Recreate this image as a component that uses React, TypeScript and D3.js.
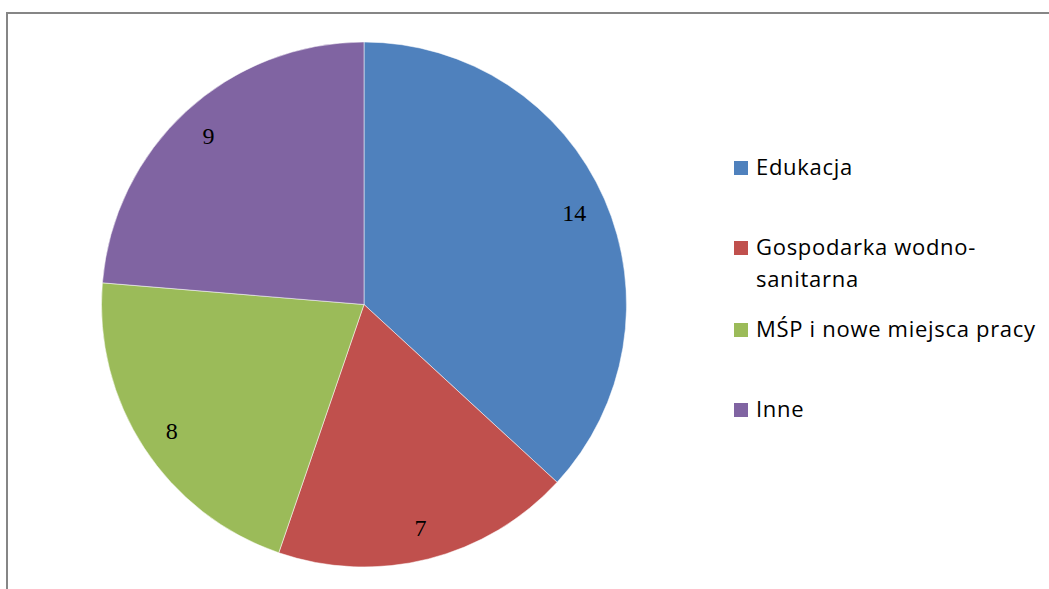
import React from "react";
import * as d3 from "d3";

const categories = ["Edukacja", "Gospodarka wodno-sanitarna", "MŚP i nowe miejsca pracy", "Inne"];
const values = [14, 7, 8, 9];
const legendLines = [["Edukacja"], ["Gospodarka wodno-", "sanitarna"], ["MŚP i nowe miejsca pracy"], ["Inne"]];
const colors = ["#4F81BD", "#C0504D", "#9BBB59", "#8064A2"];

export default function App() {
  const W = 1049, H = 589;
  const cx = 364, cy = 304.5, r = 262.5;
  const pie = d3.pie<number>().sort(null).value((d) => d)(values);
  const arc = d3.arc<d3.PieArcDatum<number>>().innerRadius(0).outerRadius(r);
  const labelArc = d3.arc<d3.PieArcDatum<number>>().innerRadius(r * 0.875).outerRadius(r * 0.875);
  const legendY = d3.scaleOrdinal<string, number>().domain(categories).range([175, 255, 337, 417]);
  return (
    <svg width={W} height={H} style={{ position: "absolute", left: 0, top: 0 }}>
      <rect x={0} y={0} width={W} height={H} fill="#fff" />
      <rect x={7} y={13} width={1200} height={800} fill="none" stroke="#868686" strokeWidth={2} />
      <g transform={`translate(${cx},${cy})`}>
        {pie.map((p, i) => (
          <path key={i} d={arc(p) || ""} fill={colors[i]} stroke="#ffffff" strokeOpacity={0.5} strokeWidth={1} />
        ))}
        {pie.map((p, i) => {
          const [x, y] = labelArc.centroid(p);
          return (
            <text key={i} x={x} y={y} dy="0.35em" textAnchor="middle" fontFamily="Liberation Serif, serif" fontSize={24} fill="#000">
              {values[i]}
            </text>
          );
        })}
      </g>
      {categories.map((c, i) => {
        const y = legendY(c);
        return (
          <g key={c}>
            <rect x={734} y={y - 14} width={14} height={14} fill={colors[i]} />
            {legendLines[i].map((line, j) => (
              <text key={j} x={756} y={y + j * 32} fontFamily="Open Sans, sans-serif" fontSize={22} letterSpacing={0.7} fill="#000">
                {line}
              </text>
            ))}
          </g>
        );
      })}
    </svg>
  );
}
